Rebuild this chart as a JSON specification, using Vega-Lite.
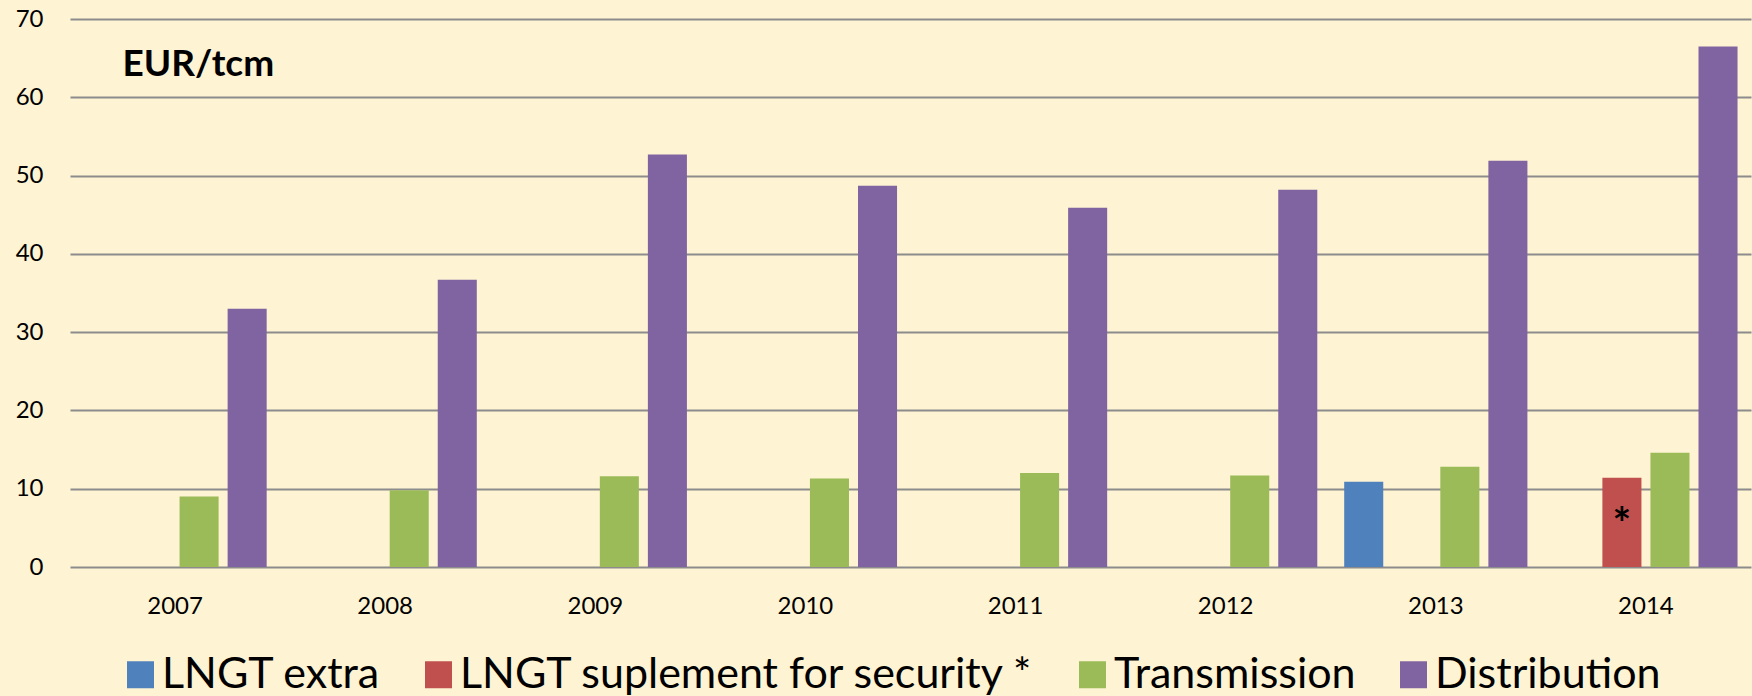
{
  "$schema": "https://vega.github.io/schema/vega-lite/v6.json",
  "width": 1681,
  "height": 548,
  "autosize": {"type": "none"},
  "padding": {"left": 70, "top": 19, "right": 1, "bottom": 129},
  "background": "#fef3d2",
  "config": {"view": {"stroke": null}, "font": "Lato"},
  "data": {
    "values": [
      {"year": "2007", "series": "Transmission", "value": 9.0},
      {"year": "2007", "series": "Distribution", "value": 33.0},
      {"year": "2008", "series": "Transmission", "value": 9.8},
      {"year": "2008", "series": "Distribution", "value": 36.7},
      {"year": "2009", "series": "Transmission", "value": 11.6},
      {"year": "2009", "series": "Distribution", "value": 52.7},
      {"year": "2010", "series": "Transmission", "value": 11.3},
      {"year": "2010", "series": "Distribution", "value": 48.7},
      {"year": "2011", "series": "Transmission", "value": 12.0},
      {"year": "2011", "series": "Distribution", "value": 45.9},
      {"year": "2012", "series": "Transmission", "value": 11.7},
      {"year": "2012", "series": "Distribution", "value": 48.2},
      {"year": "2013", "series": "LNGT extra", "value": 10.9},
      {"year": "2013", "series": "Transmission", "value": 12.8},
      {"year": "2013", "series": "Distribution", "value": 51.9},
      {"year": "2014", "series": "LNGT suplement for security *", "value": 11.4, "note": "*"},
      {"year": "2014", "series": "Transmission", "value": 14.6},
      {"year": "2014", "series": "Distribution", "value": 66.5}
    ]
  },
  "encoding": {
    "x": {
      "field": "year",
      "type": "nominal",
      "scale": {"paddingInner": 0, "paddingOuter": 0},
      "axis": {
        "title": null,
        "domain": false,
        "ticks": false,
        "tickSize": 0,
        "labelAngle": 0,
        "labelFont": "Lato",
        "labelFontSize": 24,
        "labelColor": "#000000",
        "labelBaseline": "alphabetic",
        "labelPadding": 46
      }
    },
    "xOffset": {
      "field": "series",
      "type": "nominal",
      "scale": {
        "domain": ["LNGT extra", "LNGT suplement for security *", "Transmission", "Distribution"],
        "paddingInner": 0.1875,
        "paddingOuter": 0.28
      }
    },
    "y": {
      "field": "value",
      "type": "quantitative",
      "scale": {"domain": [0, 70], "nice": false},
      "axis": {
        "title": "EUR/tcm",
        "titleAngle": 0,
        "titleX": 52,
        "titleY": 56,
        "titleAlign": "left",
        "titleBaseline": "alphabetic",
        "titleFont": "Lato",
        "titleFontSize": 37,
        "titleFontWeight": "bold",
        "titleColor": "#000000",
        "values": [0, 10, 20, 30, 40, 50, 60, 70],
        "grid": true,
        "gridColor": "#8c8c8c",
        "gridWidth": 2,
        "domain": false,
        "ticks": false,
        "tickSize": 0,
        "labelPadding": 27,
        "labelFont": "Lato",
        "labelFontSize": 24,
        "labelColor": "#000000"
      }
    }
  },
  "layer": [
    {
      "mark": {"type": "bar"},
      "encoding": {
        "color": {
          "field": "series",
          "type": "nominal",
          "scale": {
            "domain": ["LNGT extra", "LNGT suplement for security *", "Transmission", "Distribution"],
            "range": ["#4f81bd", "#c0504d", "#9bbb59", "#8064a2"]
          },
          "legend": {
            "orient": "none",
            "legendX": 49,
            "legendY": 634,
            "direction": "horizontal",
            "title": null,
            "symbolType": "square",
            "symbolSize": 729,
            "symbolStrokeWidth": 0,
            "symbolOpacity": 1,
            "labelFont": "Lato",
            "labelFontSize": 43,
            "labelColor": "#000000",
            "labelOffset": 0,
            "labelLimit": 1000,
            "columnPadding": 36
          }
        }
      }
    },
    {
      "transform": [{"filter": "datum.note == '*'"}],
      "mark": {"type": "text", "baseline": "top", "dy": 26, "font": "Lato", "fontSize": 44, "fontWeight": "bold", "color": "#000000"},
      "encoding": {
        "text": {"field": "note"}
      }
    }
  ]
}
